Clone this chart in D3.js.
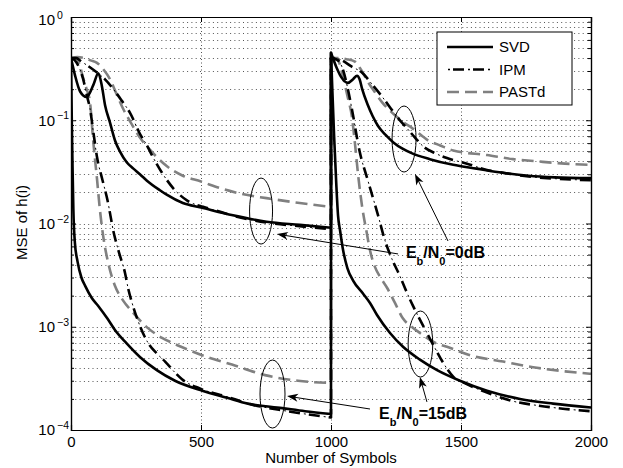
<!DOCTYPE html>
<html>
<head>
<meta charset="utf-8">
<script src="https://cdn.jsdelivr.net/npm/d3@7"></script>
<style>
  body { margin: 0; background: #fff; }
  svg { font-family: "Liberation Sans", Arial, Helvetica, sans-serif; }
</style>
</head>
<body>
<div id="chart"></div>
<script>
// [symbol index, MSE]; each curve restarts at n = 1000
var svd0 = [[0,0.4],[15,0.275],[35,0.19],[60,0.168],[86,0.22],[105,0.285],[118,0.22],[131,0.14],[150,0.095],[170,0.063],[188,0.05],[215,0.039],[240,0.034],[265,0.03],[292,0.026],[342,0.021],[368,0.019],[430,0.0158],[500,0.0143],[623,0.012],[752,0.0104],[880,0.0097],[1000,0.0091],
  [1000,0.45],[1020,0.33],[1040,0.26],[1065,0.23],[1085,0.25],[1100,0.27],[1110,0.25],[1120,0.2],[1142,0.14],[1160,0.11],[1181,0.088],[1210,0.072],[1240,0.061],[1275,0.053],[1310,0.048],[1380,0.042],[1470,0.037],[1560,0.034],[1660,0.031],[1760,0.029],[1860,0.028],[2000,0.0275]];
var ipm0 = [[0,0.4],[20,0.4],[40,0.37],[70,0.33],[100,0.29],[130,0.25],[163,0.2],[195,0.155],[227,0.118],[265,0.074],[292,0.057],[315,0.044],[350,0.031],[400,0.021],[450,0.0165],[508,0.0145],[560,0.0133],[623,0.0119],[752,0.0102],[880,0.0094],[1000,0.0088],
  [1000,0.4],[1020,0.4],[1042,0.38],[1080,0.33],[1119,0.29],[1160,0.22],[1196,0.17],[1230,0.13],[1258,0.105],[1290,0.085],[1323,0.068],[1354,0.056],[1400,0.048],[1446,0.043],[1523,0.038],[1600,0.033],[1662,0.031],[1760,0.0285],[1860,0.0272],[2000,0.0262]];
var past0 = [[0,0.4],[25,0.41],[50,0.4],[75,0.38],[100,0.36],[125,0.31],[150,0.25],[175,0.18],[200,0.13],[230,0.095],[265,0.068],[300,0.053],[330,0.044],[368,0.036],[430,0.029],[500,0.0255],[573,0.022],[650,0.0195],[752,0.0176],[880,0.0158],[1000,0.0145],
  [1000,0.4],[1027,0.4],[1060,0.39],[1092,0.37],[1115,0.31],[1142,0.235],[1170,0.185],[1196,0.15],[1246,0.112],[1280,0.095],[1312,0.084],[1373,0.064],[1420,0.057],[1470,0.051],[1600,0.046],[1700,0.042],[1792,0.04],[1900,0.038],[2000,0.037]];
var svd15 = [[0,0.4],[3,0.1],[6,0.035],[9,0.014],[15,0.0065],[25,0.0043],[40,0.003],[54,0.0025],[80,0.0019],[104,0.0016],[140,0.0012],[169,0.00093],[214,0.00069],[265,0.00051],[330,0.00038],[400,0.0003],[505,0.00024],[600,0.000205],[680,0.00018],[812,0.000163],[900,0.000152],[1000,0.000143],
  [1000,0.45],[1005,0.2],[1012,0.07],[1020,0.025],[1027,0.012],[1035,0.0085],[1045,0.0058],[1063,0.0037],[1085,0.0028],[1123,0.0021],[1150,0.0017],[1177,0.0013],[1227,0.00087],[1277,0.00064],[1342,0.00048],[1408,0.00038],[1496,0.0003],[1600,0.00024],[1727,0.0002],[1854,0.00018],[2000,0.000165]];
var ipm15 = [[0,0.4],[15,0.38],[30,0.33],[45,0.26],[62,0.17],[73,0.13],[85,0.08],[100,0.044],[120,0.027],[140,0.017],[165,0.008],[185,0.0052],[208,0.0033],[219,0.0024],[235,0.0017],[260,0.0011],[296,0.0007],[330,0.00055],[362,0.00046],[400,0.00036],[427,0.00031],[500,0.00025],[600,0.00021],[700,0.000175],[800,0.000157],[900,0.000143],[1000,0.000132],
  [1000,0.4],[1020,0.39],[1042,0.33],[1065,0.2],[1081,0.126],[1110,0.05],[1142,0.026],[1181,0.012],[1208,0.0068],[1235,0.0045],[1265,0.0031],[1290,0.0022],[1315,0.0016],[1340,0.0012],[1369,0.00087],[1400,0.00062],[1431,0.00045],[1469,0.00033],[1520,0.00028],[1600,0.00023],[1700,0.00019],[1800,0.000172],[1900,0.00016],[2000,0.000152]];
var past15 = [[0,0.4],[20,0.4],[35,0.33],[46,0.26],[60,0.2],[73,0.15],[85,0.065],[100,0.027],[112,0.013],[125,0.0072],[140,0.0045],[158,0.003],[169,0.0025],[200,0.0018],[235,0.0014],[296,0.00097],[350,0.00078],[388,0.0007],[450,0.0006],[504,0.00053],[619,0.00043],[746,0.00034],[873,0.0003],[1000,0.000285],
  [1000,0.4],[1027,0.38],[1042,0.29],[1065,0.164],[1080,0.11],[1092,0.06],[1104,0.03],[1119,0.015],[1138,0.008],[1150,0.0055],[1169,0.0038],[1190,0.003],[1215,0.0024],[1246,0.0017],[1277,0.0012],[1310,0.001],[1342,0.00087],[1400,0.0007],[1446,0.00064],[1535,0.00053],[1662,0.00046],[1792,0.0004],[1900,0.00037],[2000,0.00035]];

var seriesNames = ["SVD", "IPM", "PASTd"];
var xTicks = [0, 500, 1000, 1500, 2000];
var yTicks = [1e-4, 1e-3, 1e-2, 1e-1, 1];
var yExponents = ["\u22124", "\u22123", "\u22122", "\u22121", "0"];

var w = 623, h = 468;
var margin = {left: 71, top: 17, right: 32, bottom: 38};
var pw = w - margin.left - margin.right;   // 520
var ph = h - margin.top - margin.bottom;   // 413

// IPM is drawn as thick dashes plus a thin dot in each gap (MATLAB '-.')
var styles = {
  SVD:   {color: "#000", dash: null, width: 2.6},
  IPM:   {color: "#000", dash: "11,9", width: 2.6, dot: "2,18", dotOffset: 5},
  PASTd: {color: "#808080", dash: "12,6", width: 2.6}
};

var xScale = d3.scaleLinear().domain([0, 2000]).range([0, pw]);
var yScale = d3.scaleLog().domain([1e-4, 1]).range([ph, 0]);

var svg = d3.select("#chart").append("svg")
  .attr("width", w).attr("height", h);
svg.append("rect").attr("width", w).attr("height", h).attr("fill", "#fff");

var g = svg.append("g").attr("transform", "translate(" + margin.left + "," + margin.top + ")");

g.append("clipPath").attr("id", "clip")
  .append("rect").attr("width", pw).attr("height", ph);

// minor log values for the dotted grid
var minorVals = [];
[1e-4, 1e-3, 1e-2, 1e-1].forEach(function(dec) {
  for (var k = 2; k <= 9; k++) minorVals.push(dec * k);
});

var grid = g.append("g").attr("stroke", "#555").attr("stroke-width", 1).attr("stroke-dasharray", "1,3.3");
grid.selectAll(".hg").data(minorVals.concat([1e-3, 1e-2, 1e-1])).enter().append("line")
  .attr("x1", 0).attr("x2", pw)
  .attr("y1", function(d) { return Math.round(yScale(d)) + 0.5; })
  .attr("y2", function(d) { return Math.round(yScale(d)) + 0.5; });
grid.selectAll(".vg").data([500, 1000, 1500]).enter().append("line")
  .attr("y1", 0).attr("y2", ph)
  .attr("stroke-dasharray", "1,2.5")
  .attr("x1", function(d) { return Math.round(xScale(d)) + 0.5; })
  .attr("x2", function(d) { return Math.round(xScale(d)) + 0.5; });

// curves
var lineGen = d3.line()
  .x(function(d) { return xScale(d[0]); })
  .y(function(d) { return yScale(d[1]); })
  .curve(d3.curveMonotoneX);

function curvePath(data) {
  var cut = 0;
  for (var i = 1; i < data.length; i++) {
    if (data[i][0] === data[i - 1][0]) { cut = i; break; }
  }
  return lineGen(data.slice(0, cut)) + lineGen(data.slice(cut)).replace(/^M/, "L");
}

var curves = [
  {name: "PASTd", data: past0}, {name: "PASTd", data: past15},
  {name: "IPM", data: ipm0}, {name: "IPM", data: ipm15},
  {name: "SVD", data: svd0}, {name: "SVD", data: svd15}
];

var plot = g.append("g").attr("clip-path", "url(#clip)");
plot.selectAll("path.main").data(curves).enter().append("path")
  .attr("class", "main")
  .attr("d", function(d) { return curvePath(d.data); })
  .attr("fill", "none")
  .attr("stroke", function(d) { return styles[d.name].color; })
  .attr("stroke-width", function(d) { return styles[d.name].width; })
  .attr("stroke-dasharray", function(d) { return styles[d.name].dash; })
  .attr("stroke-linejoin", "round");
plot.selectAll("path.dot").data(curves.filter(function(d) { return styles[d.name].dot; }))
  .enter().append("path")
  .attr("class", "dot")
  .attr("d", function(d) { return curvePath(d.data); })
  .attr("fill", "none")
  .attr("stroke", "#000")
  .attr("stroke-width", 1)
  .attr("stroke-dasharray", function(d) { return styles[d.name].dot; })
  .attr("stroke-dashoffset", function(d) { return styles[d.name].dotOffset; });

// axes (ticks pointing in)
var xAxisB = d3.axisBottom(xScale).tickValues(xTicks).tickSize(-5).tickPadding(6)
  .tickFormat(d3.format("d"));
var xAxisT = d3.axisTop(xScale).tickValues(xTicks).tickSize(-5).tickFormat("");
var yAxisL = d3.axisLeft(yScale).tickValues(yTicks).tickSize(-5).tickFormat("");
var yAxisR = d3.axisRight(yScale).tickValues(yTicks).tickSize(-5).tickFormat("");
var yMinL = d3.axisLeft(yScale).tickValues(minorVals).tickSize(-3).tickFormat("");
var yMinR = d3.axisRight(yScale).tickValues(minorVals).tickSize(-3).tickFormat("");

function styleAxis(sel) {
  sel.selectAll("path").attr("stroke", "#000").attr("stroke-width", 1.2);
  sel.selectAll("line").attr("stroke", "#000");
  sel.selectAll("text").attr("fill", "#000").style("font-size", "15px")
    .style("font-family", "'Liberation Sans', Arial, sans-serif");
}

g.append("g").attr("transform", "translate(0," + ph + ")").call(xAxisB).call(styleAxis);
g.append("g").call(xAxisT).call(styleAxis);
g.append("g").call(yAxisL).call(styleAxis);
g.append("g").attr("transform", "translate(" + pw + ",0)").call(yAxisR).call(styleAxis);
g.append("g").call(yMinL).call(styleAxis);
g.append("g").attr("transform", "translate(" + pw + ",0)").call(yMinR).call(styleAxis);

// y tick labels 10^k (the top one sits a little lower, as in the original)
var yLab = g.append("g");
yTicks.forEach(function(v, i) {
  var yy = yScale(v) + (v === 1 ? 3 : 0);
  yLab.append("text").attr("x", -16).attr("y", yy).attr("dy", "0.36em")
    .attr("text-anchor", "end").style("font-size", "15px").text("10");
  yLab.append("text").attr("x", -14).attr("y", yy - 1)
    .attr("text-anchor", "start").style("font-size", "10.5px").text(yExponents[i]);
});

// axis titles
g.append("text").attr("x", pw / 2).attr("y", ph + 33).attr("text-anchor", "middle")
  .style("font-size", "15px").text("Number of Symbols");
g.append("text").attr("transform", "translate(" + (27 - margin.left) + "," + (ph / 2 - 1) + ") rotate(-90)")
  .attr("text-anchor", "middle").style("font-size", "15px").text("MSE of h(i)");

// legend
var leg = g.append("g").attr("transform", "translate(" + (437 - margin.left) + "," + (32 - margin.top) + ")");
leg.append("rect").attr("width", 135).attr("height", 73)
  .attr("fill", "#fff").attr("stroke", "#000").attr("stroke-width", 1);
seriesNames.forEach(function(name, i) {
  var yy = 15 + i * 22.5;
  var st = styles[name];
  leg.append("line").attr("x1", 10).attr("x2", 56).attr("y1", yy).attr("y2", yy)
    .attr("stroke", st.color).attr("stroke-width", st.width)
    .attr("stroke-dasharray", st.dash)
    .attr("stroke-dashoffset", name === "IPM" ? -6 : 0);
  if (st.dot) {
    leg.append("line").attr("x1", 10).attr("x2", 56).attr("y1", yy).attr("y2", yy)
      .attr("stroke", "#000").attr("stroke-width", 1.5)
      .attr("stroke-dasharray", st.dot).attr("stroke-dashoffset", st.dotOffset - 6);
  }
  leg.append("text").attr("x", 62).attr("y", yy).attr("dy", "0.36em")
    .style("font-size", "15px").text(name);
});

// annotations: ellipses around curve groups, arrows from SNR labels
var ellipses = [[731, 0.0132, 11.5, 33], [1281, 0.0658, 12, 33], [775, 0.000223, 12.5, 34], [1344, 0.00068, 12.3, 33]];
var arrows = [
  [[1258, 0.00507], [792, 0.0079]],
  [[1450, 0.00677], [1323, 0.0302]],
  [[1150, 0.0001597], [831, 0.000213]],
  [[1369, 0.000187], [1342, 0.000326]]
];
var snrLabels = [[1288, 0.00463, "0dB"], [1185, 0.000128, "15dB"]];

var ann = g.append("g");
ann.selectAll("ellipse").data(ellipses).enter().append("ellipse")
  .attr("cx", function(d) { return xScale(d[0]); })
  .attr("cy", function(d) { return yScale(d[1]); })
  .attr("rx", function(d) { return d[2]; })
  .attr("ry", function(d) { return d[3]; })
  .attr("fill", "none").attr("stroke", "#000").attr("stroke-width", 1);

arrows.forEach(function(a) {
  var x0 = xScale(a[0][0]), y0 = yScale(a[0][1]);
  var x1 = xScale(a[1][0]), y1 = yScale(a[1][1]);
  var ang = Math.atan2(y1 - y0, x1 - x0);
  var L = 11, W = 4;
  ann.append("line").attr("x1", x0).attr("y1", y0)
    .attr("x2", x1 - Math.cos(ang) * 6).attr("y2", y1 - Math.sin(ang) * 6)
    .attr("stroke", "#000").attr("stroke-width", 1);
  var bx = x1 - Math.cos(ang) * L, by = y1 - Math.sin(ang) * L;
  var mx = x1 - Math.cos(ang) * (L - 3), my = y1 - Math.sin(ang) * (L - 3);
  var px = -Math.sin(ang) * W, py = Math.cos(ang) * W;
  ann.append("path")
    .attr("d", "M" + x1 + "," + y1 + "L" + (bx + px) + "," + (by + py) +
      "L" + mx + "," + my + "L" + (bx - px) + "," + (by - py) + "Z")
    .attr("fill", "#000");
});

snrLabels.forEach(function(s) {
  var t = ann.append("text").attr("x", xScale(s[0])).attr("y", yScale(s[1]))
    .style("font-size", "16px").style("font-weight", "bold");
  t.append("tspan").text("E");
  t.append("tspan").attr("dy", 7).style("font-size", "11px").text("b");
  t.append("tspan").attr("dy", -7).text("/N");
  t.append("tspan").attr("dy", 7).style("font-size", "11px").text("0");
  t.append("tspan").attr("dy", -7).text("=" + s[2]);
});
</script>
</body>
</html>
